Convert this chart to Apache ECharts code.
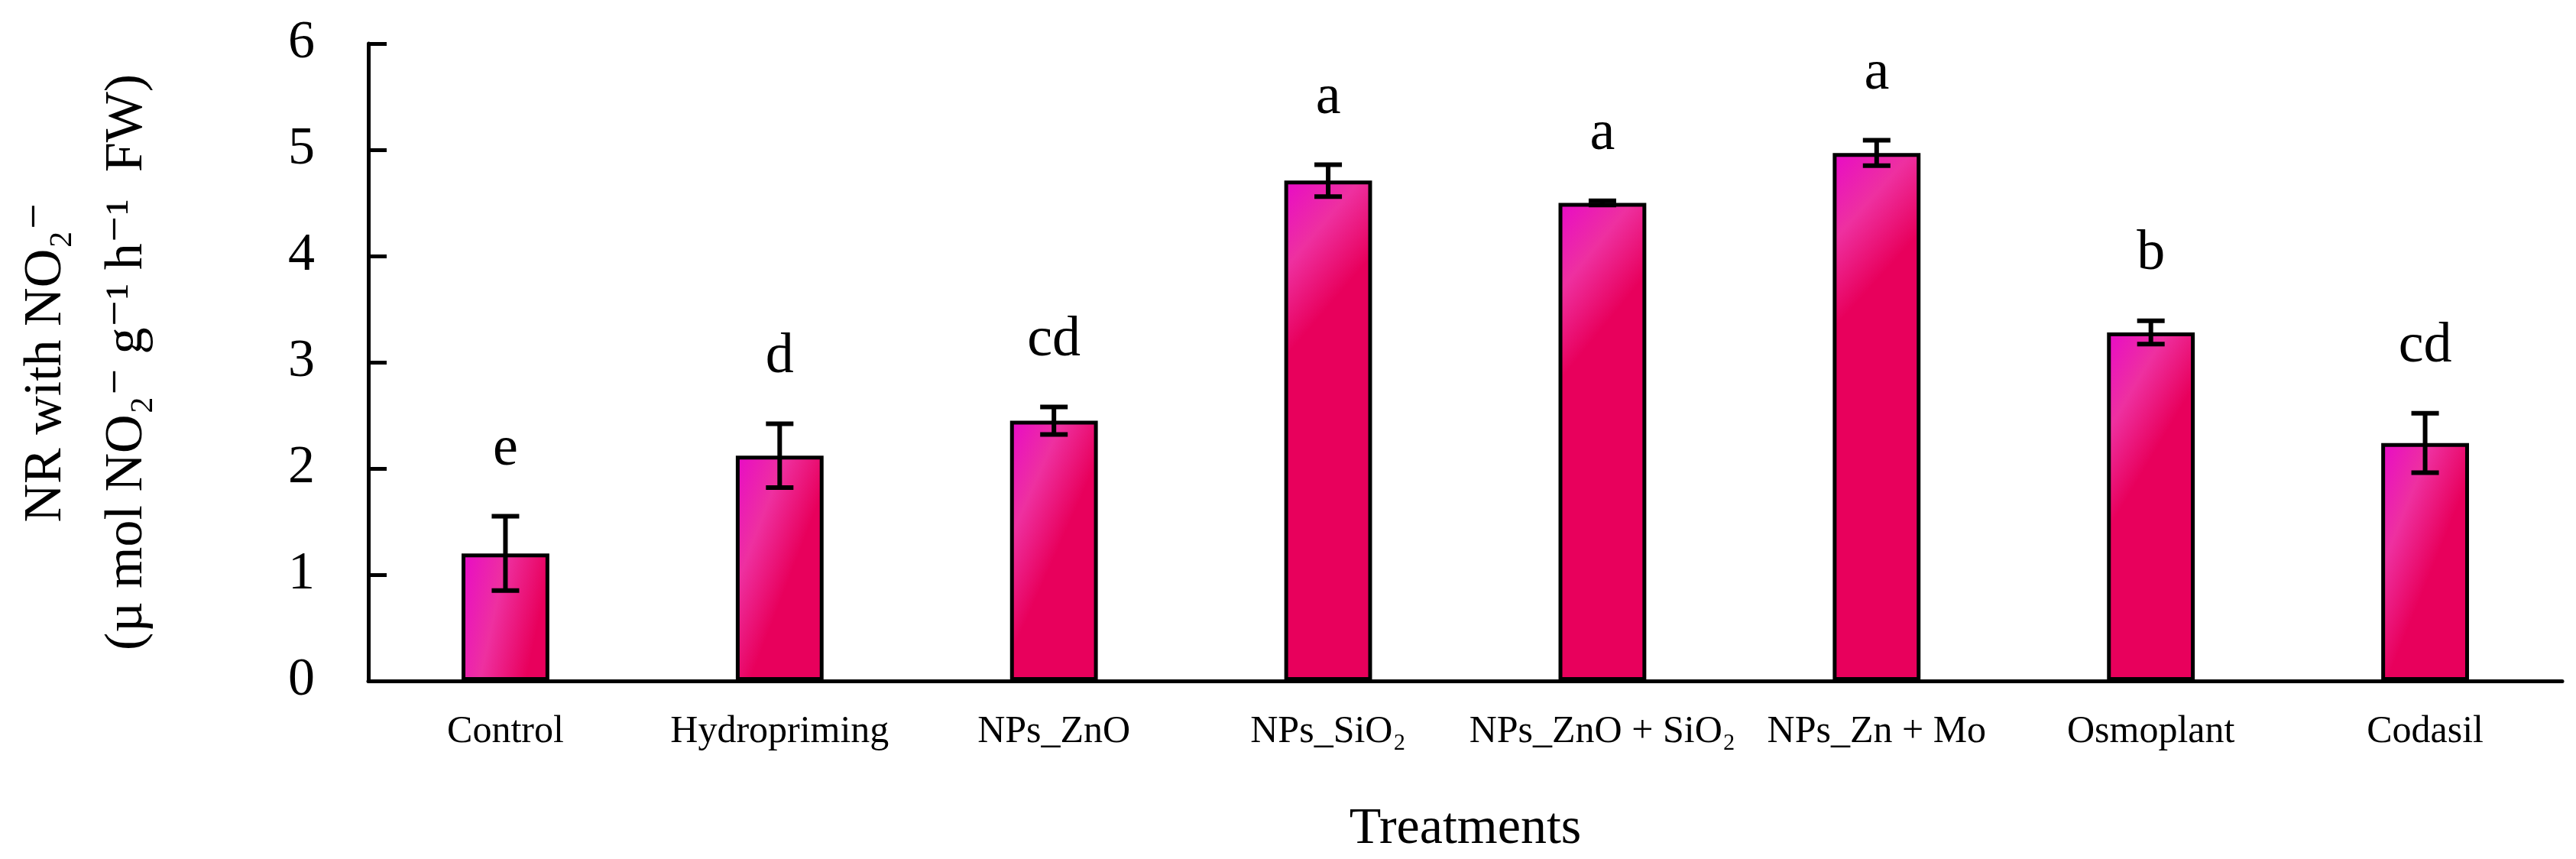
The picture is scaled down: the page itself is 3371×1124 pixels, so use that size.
<!DOCTYPE html>
<html><head><meta charset="utf-8">
<script src="https://cdn.jsdelivr.net/npm/echarts@6/dist/echarts.min.js"></script>
<style>html,body{margin:0;background:#fff}#c{width:3371px;height:1124px}</style>
</head><body><div id="c"></div>
<script>
const categories = ['Control','Hydropriming','NPs_ZnO','NPs_SiO₂','NPs_ZnO + SiO₂','NPs_Zn + Mo','Osmoplant','Codasil'];
const values = [1.20, 2.12, 2.45, 4.71, 4.50, 4.97, 3.28, 2.24];
const errors = [0.35, 0.30, 0.13, 0.15, 0.02, 0.12, 0.11, 0.28];
const letters = ['e','d','cd','a','a','a','b','cd'];
const yTicks = [0,1,2,3,4,5,6];

const F = '"Liberation Serif","DejaVu Serif",serif';
const chart = echarts.init(document.getElementById('c'));
const grad = new echarts.graphic.LinearGradient(0,0,1,0.15,[
  {offset:0,color:'#e80ac8'},{offset:0.5,color:'#ee30a0'},{offset:1,color:'#e8005c'}]);
chart.setOption({
  animation:false,
  grid:{left:409,right:18,top:57,bottom:221},
  xAxis:{type:'category',data:categories,
    axisLine:{lineStyle:{color:'#000',width:5}},axisTick:{show:false},
    axisLabel:{fontFamily:F,fontSize:50,color:'#000',margin:42,interval:0},
    name:'Treatments',nameLocation:'middle',nameGap:160,
    nameTextStyle:{fontFamily:F,fontSize:68,color:'#000'}},
  yAxis:{type:'value',min:0,max:6,interval:1,splitLine:{show:false},
    axisLine:{show:true,lineStyle:{color:'#000',width:5}},
    axisTick:{show:true,inside:true,length:24,lineStyle:{color:'#000',width:5}},
    axisLabel:{fontFamily:F,fontSize:70,color:'#000',margin:70,formatter:v=>yTicks.includes(v)?String(v):''},
    name:'NR with NO₂⁻\n(µ mol NO₂⁻ g⁻¹ h⁻¹  FW)',nameLocation:'middle',nameGap:262,
    nameTextStyle:{fontFamily:F,fontSize:70,color:'#000',lineHeight:106}},
  series:[
    {type:'bar',data:values,barWidth:'32%',
     itemStyle:{color:grad,borderColor:'#000',borderWidth:5}},
    {type:'custom',z:10,data:values.map((v,i)=>[i,v,errors[i]]),
     renderItem:(p,api)=>{
       const i=api.value(0),v=api.value(1),e=api.value(2);
       const hi=api.coord([i,v+e]),lo=api.coord([i,v-e]);
       const w=18,s={stroke:'#000',lineWidth:6};
       return {type:'group',children:[
         {type:'line',shape:{x1:hi[0],y1:hi[1],x2:lo[0],y2:lo[1]},style:s},
         {type:'line',shape:{x1:hi[0]-w,y1:hi[1],x2:hi[0]+w,y2:hi[1]},style:s},
         {type:'line',shape:{x1:lo[0]-w,y1:lo[1],x2:lo[0]+w,y2:lo[1]},style:s},
         {type:'text',style:{text:letters[i],x:hi[0],y:hi[1]-50,align:'center',verticalAlign:'bottom',
           fontFamily:F,fontSize:74,fill:'#000'}}
       ]};
     }}
  ]
});
</script></body></html>
